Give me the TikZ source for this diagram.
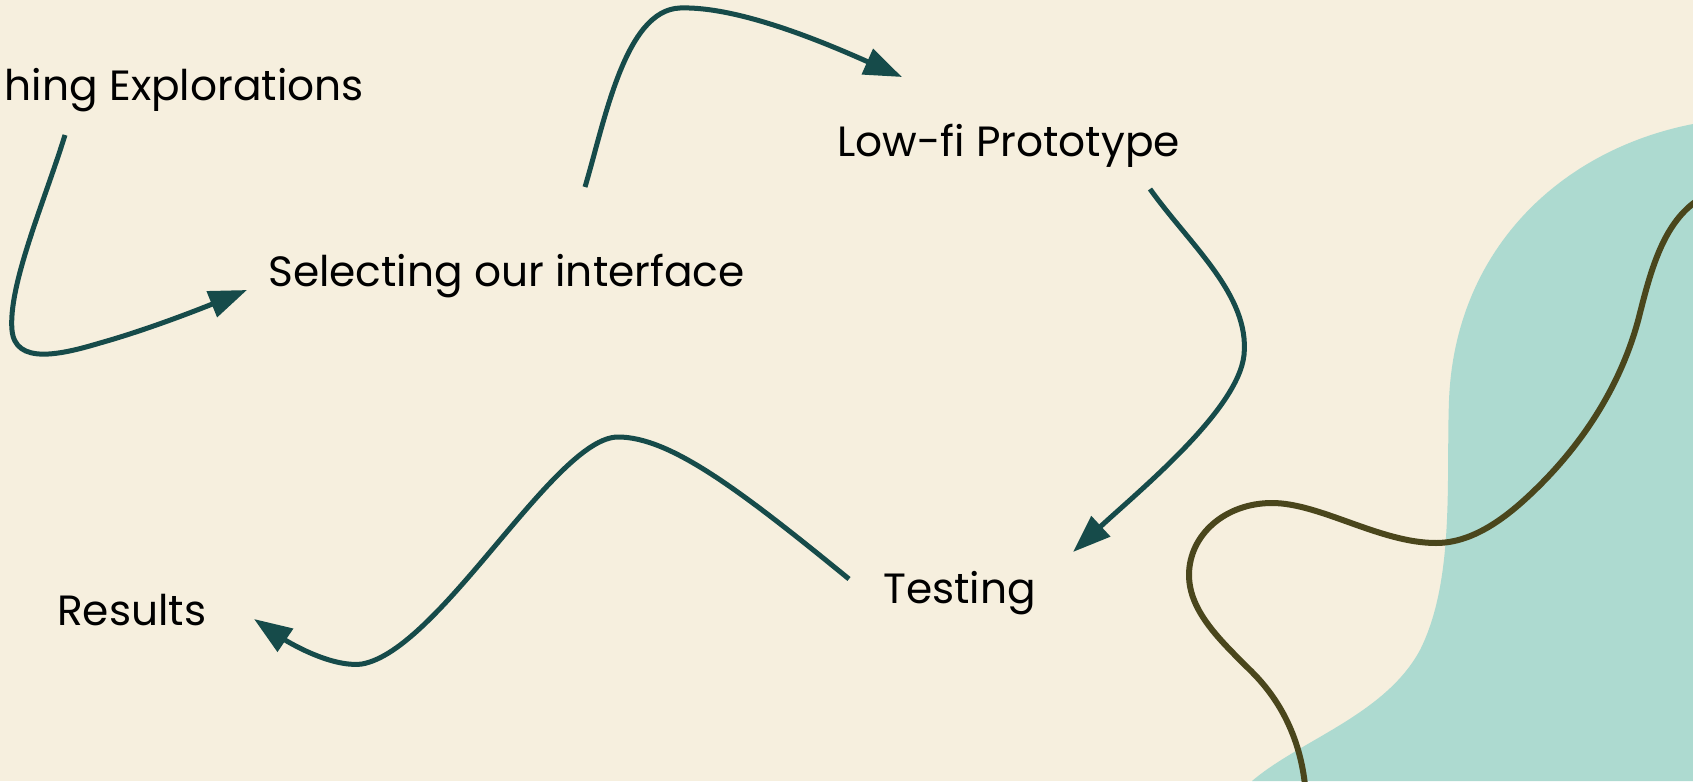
\documentclass[tikz,border=0pt]{standalone}
\usepackage{fontspec}
\setmainfont{Poppins}
\usetikzlibrary{arrows.meta}
\definecolor{bgcream}{RGB}{246,239,222}
\definecolor{flowteal}{RGB}{22,75,74}
\definecolor{blobteal}{RGB}{173,218,208}
\definecolor{olivecurve}{RGB}{74,70,28}
\begin{document}
\begin{tikzpicture}[x=1pt,y=-1pt,
  flow/.style={draw=flowteal,line width=5pt,-{Triangle[length=38pt,width=27pt]}},
  steptext/.style={inner sep=0pt,font=\fontsize{42.3}{50}\selectfont,text=black}]
\useasboundingbox (0,0) rectangle (1693,781);
\fill[bgcream] (0,0) rectangle (1693,781);
\begin{scope}
\clip (0,0) rectangle (1693,781);
\fill[blobteal] (1693,124) .. controls (1560,150) and (1455,250) .. (1449,400)
  .. controls (1446,480) and (1455,580) .. (1420,650)
  .. controls (1385,715) and (1300,740) .. (1252,781) -- (1693,781) -- cycle;
\draw[olivecurve,line width=6pt] (1698,200) .. controls (1665,222) and (1652,265) .. (1640,313)
  .. controls (1628,362) and (1600,425) .. (1540,485)
  .. controls (1510,515) and (1475,543) .. (1436,543)
  .. controls (1380,543) and (1320,503) .. (1272,503)
  .. controls (1225,503) and (1189,535) .. (1189,575)
  .. controls (1189,612) and (1222,642) .. (1252,672)
  .. controls (1282,702) and (1300,740) .. (1305,785);
\node[steptext,anchor=base east] (explore) at (364,101) {hing Explorations};
\end{scope}
\node[steptext,anchor=base west] (select) at (268,286) {Selecting our interface};
\node[steptext,anchor=base west] (lowfi) at (837,156) {Low-fi Prototype};
\node[steptext,anchor=base west] (testing) at (883,603) {Testing};
\node[steptext,anchor=base west] (results) at (57,625) {Results};
\coordinate (a1s) at (65,135);
\coordinate (a1e) at (247,290);
\coordinate (a2s) at (585,187);
\coordinate (a2e) at (902,77);
\coordinate (a3s) at (1150,189);
\coordinate (a3e) at (1073,552);
\coordinate (a4s) at (849,579);
\coordinate (a4e) at (254,619);
\draw[flow] (a1s) .. controls (45,200) and (8,285) .. (12,330)
  .. controls (15,365) and (60,355) .. (100,343)
  .. controls (150,329) and (205,307) .. (a1e);
\draw[flow] (a2s) .. controls (605,120) and (625,10) .. (680,8)
  .. controls (740,6) and (830,45) .. (a2e);
\draw[flow] (a3s) .. controls (1190,245) and (1250,295) .. (1244,355)
  .. controls (1238,410) and (1140,490) .. (a3e);
\draw[flow] (a4s) .. controls (740,490) and (670,437) .. (618,437)
  .. controls (555,437) and (440,650) .. (362,664)
  .. controls (330,668) and (285,640) .. (a4e);
\end{tikzpicture}
\end{document}
